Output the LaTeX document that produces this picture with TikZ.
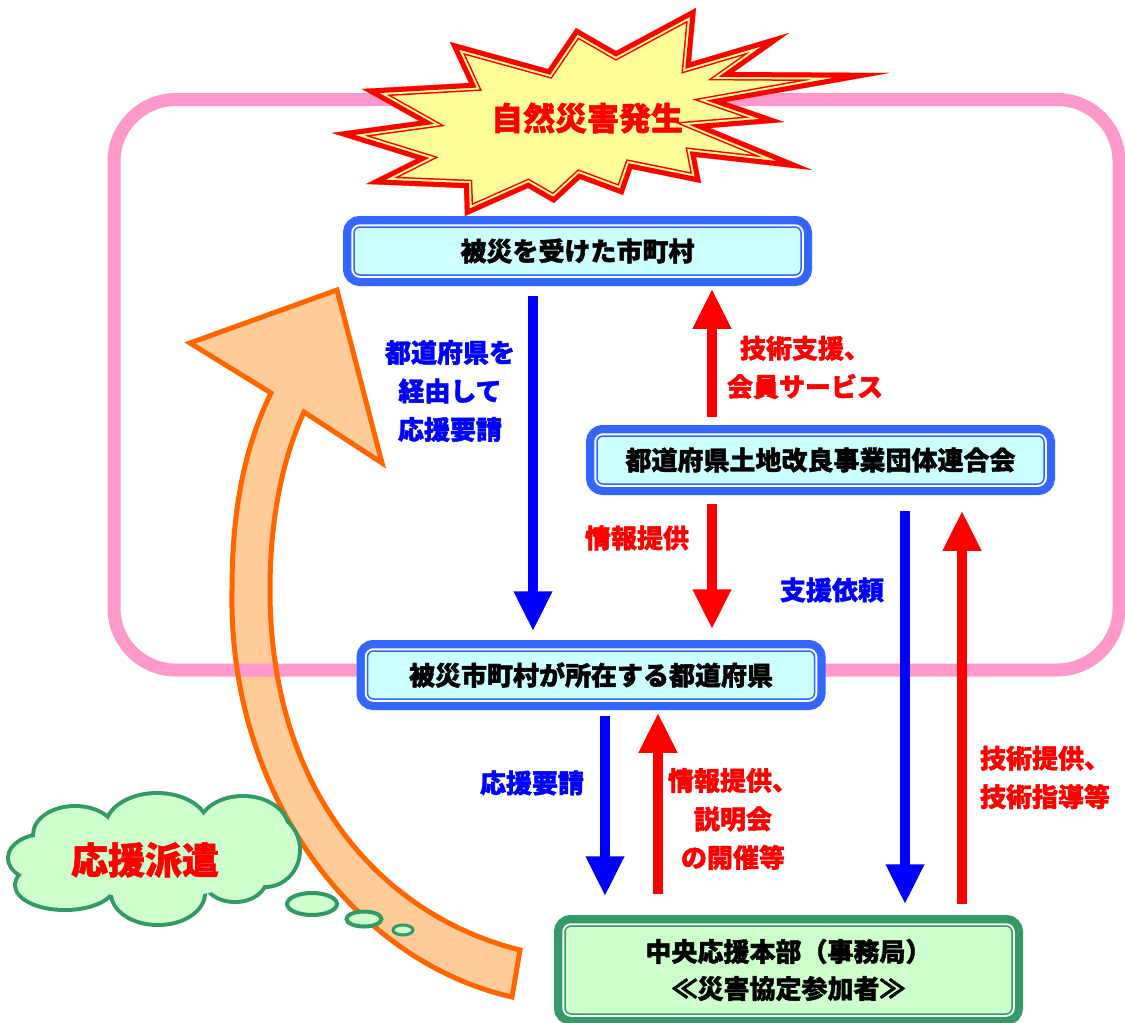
\documentclass[tikz,border=0pt]{standalone}
\usepackage{fontspec}
\setmainfont{Noto Sans CJK JP}[BoldFeatures={FakeBold=1.5}]
\usetikzlibrary{arrows.meta}
\definecolor{boxblue}{HTML}{3366FF}
\definecolor{boxcyan}{HTML}{CCFFFF}
\definecolor{boxgreen}{HTML}{339966}
\definecolor{boxlgreen}{HTML}{CCFFCC}
\definecolor{pinkc}{HTML}{FF99CC}
\definecolor{orangec}{HTML}{FF6600}
\definecolor{peach}{HTML}{FFCC99}
\definecolor{staryellow}{HTML}{FFFF99}
\definecolor{arrblue}{HTML}{0000FF}
\definecolor{arrred}{HTML}{FF0000}
\tikzset{
  bluebox/.style={rectangle, rounded corners=6pt, minimum width=447pt, minimum height=48pt,
    inner sep=0pt, fill=boxcyan, draw=boxblue, line width=1.5pt,
    preaction={draw=boxblue, line width=22pt},
    preaction={draw=white, line width=5.5pt},
    font=\fontsize{26}{37}\selectfont\bfseries, text=black, align=center},
  greenbox/.style={rectangle, rounded corners=6pt, minimum width=447pt, minimum height=48pt,
    inner sep=0pt, fill=boxlgreen, draw=boxgreen, line width=1.5pt,
    preaction={draw=boxgreen, line width=22pt},
    preaction={draw=white, line width=5.5pt},
    font=\fontsize{26}{37}\selectfont\bfseries, text=black, align=center},
  barrow/.style={draw=arrblue, line width=10pt, -{Triangle[width=36pt,length=40pt]}},
  rarrow/.style={draw=arrred, line width=10pt, -{Triangle[width=36pt,length=40pt]}},
  bluelab/.style={text=arrblue, font=\fontsize{26}{38.5}\selectfont\bfseries, align=center, inner sep=0pt},
  redlab/.style={text=arrred, font=\fontsize{26}{38.5}\selectfont\bfseries, align=center, inner sep=0pt},
  cloudline/.style={draw=boxgreen, line width=8pt},
  bubble/.style={draw=boxgreen, fill=boxlgreen, line width=4pt},
}
\def\starpath{(696,8) -- (691,62) -- (789,33) -- (734,72) -- (889,73) -- (726,102) -- (784,122) -- (710,128) -- (812,170) -- (696,157) -- (701,183) -- (632,169) -- (623,195) -- (580,179) -- (554,203) -- (528,188) -- (465,216) -- (464,188) -- (366,184) -- (416,159) -- (332,133) -- (419,121) -- (362,89) -- (469,83) -- (450,42) -- (548,69) -- (576,28) -- (616,51) -- cycle}
\def\orangepath{(512,997) .. controls (350,960) and (228,790) .. (232,590) .. controls (232,500) and (248,440) .. (271,393) -- (190,343) -- (337,290) -- (382,463) -- (304,412) .. controls (282,460) and (270,520) .. (270,590) .. controls (270,790) and (380,915) .. (520,950) -- cycle}
\def\cloudlobes{45/858/35/22, 75/835/40/27, 157/828/50/33, 243/830/44/32, 265/850/33/35, 235/878/30/22, 158/893/45/30, 65/885/48/23}
\begin{document}
\begin{tikzpicture}[x=1pt,y=-1pt]
\useasboundingbox[fill=white] (0,0) rectangle (1125,1023);
% orange curved arrow (fill), pink frame, orange outline
\fill[peach] \orangepath;
\draw[pinkc, line width=13pt, rounded corners=62pt] (114,99.5) rectangle (1119,670);
\draw[orangec, line width=5pt, miter limit=20] \orangepath;
% starburst
\begin{scope}
  \fill[staryellow] \starpath;
  \clip \starpath;
  \draw[arrred, line width=17pt, miter limit=40] \starpath;
  \draw[staryellow, line width=14pt, miter limit=40] \starpath;
  \draw[arrred, line width=10pt, miter limit=40] \starpath;
\end{scope}
\node[text=arrred, font=\fontsize{32}{36}\selectfont\bfseries, inner sep=0pt] (title) at (587,118) {自然災害発生};
% boxes
\node[bluebox] (b1) at (577.5,251) {被災を受けた市町村};
\node[bluebox] (b2) at (820.5,460) {都道府県土地改良事業団体連合会};
\node[bluebox] (b3) at (591,675) {被災市町村が所在する都道府県};
\node[greenbox, minimum height=88pt] (b4) at (788.5,970) {中央応援本部（事務局）\\≪災害協定参加者≫};
% arrows
\draw[barrow, shorten <=20pt, shorten >=19pt] ([xshift=-44.5pt]b1.south) -- ([xshift=-58pt]b3.north);
\draw[rarrow, shorten <=18pt, shorten >=13pt] ([xshift=-108.5pt]b2.north) -- ([xshift=134.5pt]b1.south);
\draw[rarrow, shorten <=19pt, shorten >=21pt] ([xshift=-108.5pt]b2.south) -- ([xshift=121pt]b3.north);
\draw[barrow, shorten <=16pt, shorten >=29pt] ([xshift=14pt]b3.south) -- ([xshift=-183.5pt]b4.north);
\draw[rarrow, shorten <=31pt, shorten >=13pt] ([xshift=-130.5pt]b4.north) -- ([xshift=67pt]b3.south);
\draw[barrow, shorten <=26pt, shorten >=21pt] ([xshift=84.5pt]b2.south) -- ([xshift=116.5pt]b4.north);
\draw[rarrow, shorten <=21pt, shorten >=26pt] ([xshift=173.5pt]b4.north) -- ([xshift=141.5pt]b2.south);
% labels
\node[bluelab] (l1) at (450,391) {都道府県を\\経由して\\応援要請};
\node[redlab] (l2) at (805,367.5) {技術支援、\\会員サービス};
\node[redlab] (l3) at (637,538) {情報提供};
\node[bluelab] (l4) at (832,590) {支援依頼};
\node[bluelab] (l5) at (532,783) {応援要請};
\node[redlab] (l6) at (733,819) {情報提供、\\説明会\\の開催等};
\node[redlab] (l7) at (1045,777.5) {技術提供、\\技術指導等};
% cloud
\begin{scope}
  \foreach \cx/\cy/\rx/\ry in \cloudlobes
    \draw[cloudline] (\cx,\cy) ellipse (\rx pt and \ry pt);
  \foreach \cx/\cy/\rx/\ry in \cloudlobes
    \fill[boxlgreen] (\cx,\cy) ellipse (\rx pt and \ry pt);
  \fill[boxlgreen] (155,858) ellipse (110pt and 40pt);
\end{scope}
\node[text=arrred, font=\fontsize{37}{40}\selectfont\bfseries, inner sep=0pt] (cloudtxt) at (145,860) {応援派遣};
\draw[bubble] (312,904) ellipse (25pt and 11pt);
\draw[bubble] (364,919) ellipse (17.5pt and 7.5pt);
\draw[bubble, line width=3pt] (403,930) ellipse (10pt and 5pt);
\end{tikzpicture}
\end{document}
